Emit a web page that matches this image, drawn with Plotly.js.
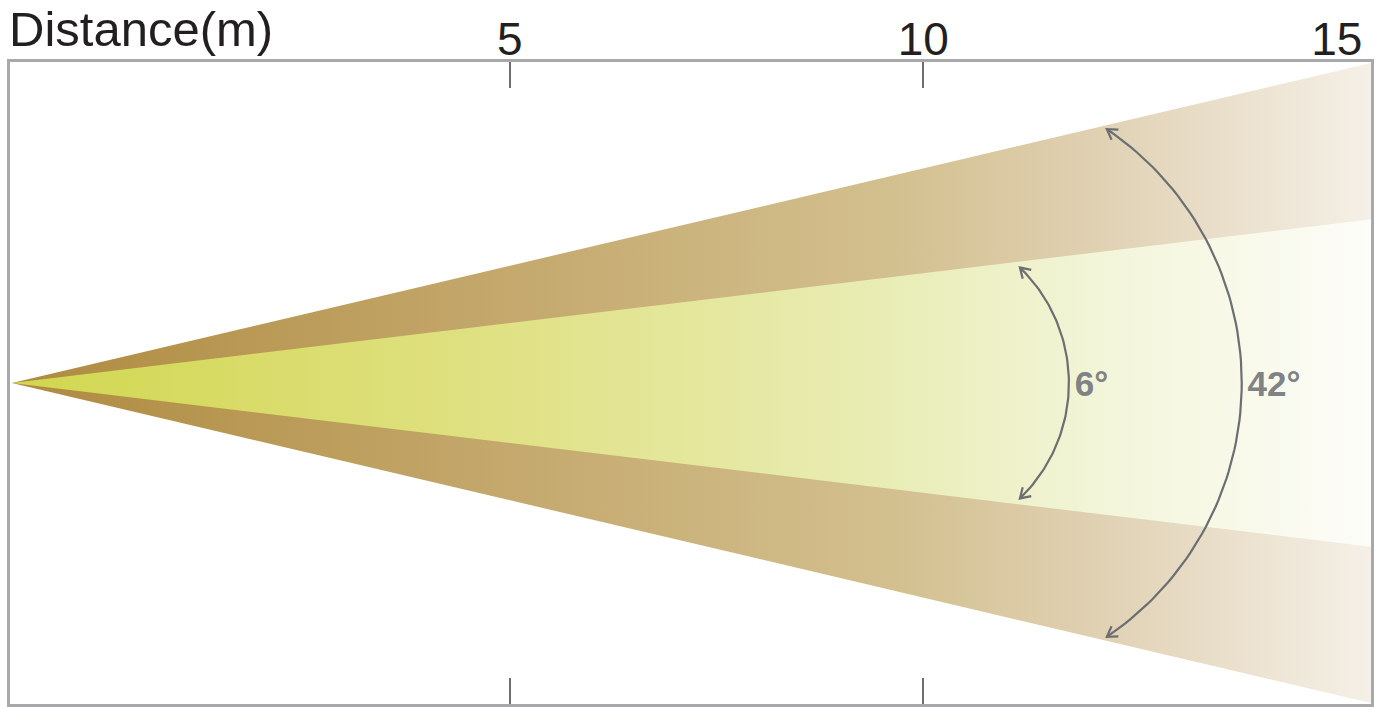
<!DOCTYPE html>
<html>
<head>
<meta charset="utf-8">
<script src="https://cdn.plot.ly/plotly-3.0.1.min.js"></script>
<style>
  html, body { margin: 0; padding: 0; background: #ffffff; }
  #chart { width: 1391px; height: 707px; }
</style>
</head>
<body>
<div id="chart"></div>
<script>
// ---- data (metres / degrees) ----
const distanceTicks = [5, 10, 15];
const distanceLabels = ['5', '10', '15'];
const frameTicks = [5, 10];
const sourceX = -1.02;          // beam origin
const beamEndX = 15.42;         // beam reaches the right frame edge
const outerHalfWidth = 3.87;    // half width of 42° beam at end
const innerHalfWidth = 1.98;    // half width of 6° beam at end
const beamAngleLabels = ['6°', '42°'];
const arcCenterX = [9.82, 10.15];
const arcRadius = [1.94, 3.70];
const arcHalfSpanDeg = [46, 56];
const xRange = [-1.044, 15.413];
const yRange = [-3.88, 3.88];

// ---- colours ----
const outerScale = [[0, '#ad8a41'], [0.08, '#b39149'], [0.36, '#c4a86c'], [0.65, '#d3c08f'], [0.8, '#e0d1b3'], [1, '#f5f0e7']];
const innerScale = [[0, '#d2d74f'], [0.08, '#d4d95a'], [0.36, '#e0e184'], [0.65, '#e9edb6'], [0.8, '#f2f5d8'], [1, '#fdfdf9']];
const arcColor = '#6d6e71';
const labelColor = '#808285';

const traces = [];

// outer (42°) beam
traces.push({
  type: 'scatter', mode: 'lines',
  x: [sourceX, beamEndX, beamEndX, sourceX],
  y: [0, outerHalfWidth, -outerHalfWidth, 0],
  fill: 'toself',
  fillgradient: { type: 'horizontal', colorscale: outerScale },
  line: { width: 0 },
  hoverinfo: 'skip', showlegend: false
});
// inner (6°) beam
traces.push({
  type: 'scatter', mode: 'lines',
  x: [sourceX, beamEndX, beamEndX, sourceX],
  y: [0, innerHalfWidth, -innerHalfWidth, 0],
  fill: 'toself',
  fillgradient: { type: 'horizontal', colorscale: innerScale },
  line: { width: 0 },
  hoverinfo: 'skip', showlegend: false
});

// arcs with open arrowheads
const headLen = 0.14, headAng = 32 * Math.PI / 180;
for (let i = 0; i < arcRadius.length; i++) {
  const cx = arcCenterX[i], r = arcRadius[i], span = arcHalfSpanDeg[i] * Math.PI / 180;
  const ax = [], ay = [];
  const n = 80;
  for (let k = 0; k <= n; k++) {
    const t = -span + (2 * span) * k / n;
    ax.push(cx + r * Math.cos(t));
    ay.push(r * Math.sin(t));
  }
  traces.push({
    type: 'scatter', mode: 'lines', x: ax, y: ay,
    line: { color: arcColor, width: 2.2 }, hoverinfo: 'skip', showlegend: false
  });
  // arrowheads at both ends
  [[span, 1], [-span, -1]].forEach(([t, s]) => {
    const tipX = cx + r * Math.cos(t), tipY = r * Math.sin(t);
    const dx = -Math.sin(t) * s, dy = Math.cos(t) * s;   // direction of travel
    const wing = (a) => {
      const bx = -dx, by = -dy;
      return [tipX + headLen * (bx * Math.cos(a) - by * Math.sin(a)),
              tipY + headLen * (bx * Math.sin(a) + by * Math.cos(a))];
    };
    const w1 = wing(headAng), w2 = wing(-headAng);
    traces.push({
      type: 'scatter', mode: 'lines',
      x: [w1[0], tipX, w2[0]], y: [w1[1], tipY, w2[1]],
      line: { color: arcColor, width: 2.2 }, hoverinfo: 'skip', showlegend: false
    });
  });
}

// angle labels
traces.push({
  type: 'scatter', mode: 'text',
  x: arcRadius.map((r, i) => arcCenterX[i] + r + 0.07),
  y: arcRadius.map(() => -0.05),
  text: beamAngleLabels,
  textposition: 'middle right',
  textfont: { family: 'Liberation Sans, Arial, sans-serif', size: 35, color: labelColor, weight: 'bold' },
  hoverinfo: 'skip', showlegend: false, cliponaxis: false
});

// dummy trace for top label axis
traces.push({
  type: 'scatter', mode: 'none', x: [5], y: [0], xaxis: 'x2', yaxis: 'y',
  hoverinfo: 'skip', showlegend: false
});

const font = 'Liberation Sans, Arial, Helvetica, sans-serif';

const layout = {
  width: 1391, height: 707,
  margin: { l: 10, r: 20, t: 62, b: 3, pad: 0 },
  paper_bgcolor: '#ffffff', plot_bgcolor: '#ffffff',
  showlegend: false,
  xaxis: {
    range: xRange, showgrid: false, zeroline: false,
    showline: true, linecolor: '#a7a9ac', linewidth: 3, mirror: 'ticks',
    tickmode: 'array', tickvals: frameTicks, ticks: 'inside', ticklen: 26,
    tickwidth: 2, tickcolor: '#6d6e71', showticklabels: false, fixedrange: true
  },
  xaxis2: {
    overlaying: 'x', side: 'top', range: xRange, matches: 'x',
    showgrid: false, zeroline: false, showline: false,
    tickmode: 'array', tickvals: distanceTicks, ticktext: distanceLabels,
    ticks: '', showticklabels: true, ticklabelstandoff: -3,
    tickfont: { family: font, size: 46, color: '#231f20' }
  },
  yaxis: {
    range: yRange, showgrid: false, zeroline: false,
    showline: true, linecolor: '#a7a9ac', linewidth: 3, mirror: true,
    ticks: '', showticklabels: false, fixedrange: true
  },
  annotations: [{
    xref: 'paper', yref: 'paper', x: 0, y: 1,
    xanchor: 'left', yanchor: 'bottom', xshift: -3, yshift: 4,
    text: 'Distance(m)', showarrow: false,
    font: { family: font, size: 49, color: '#231f20' }
  }]
};

Plotly.newPlot('chart', traces, layout, { displayModeBar: false, staticPlot: true });
</script>
</body>
</html>
